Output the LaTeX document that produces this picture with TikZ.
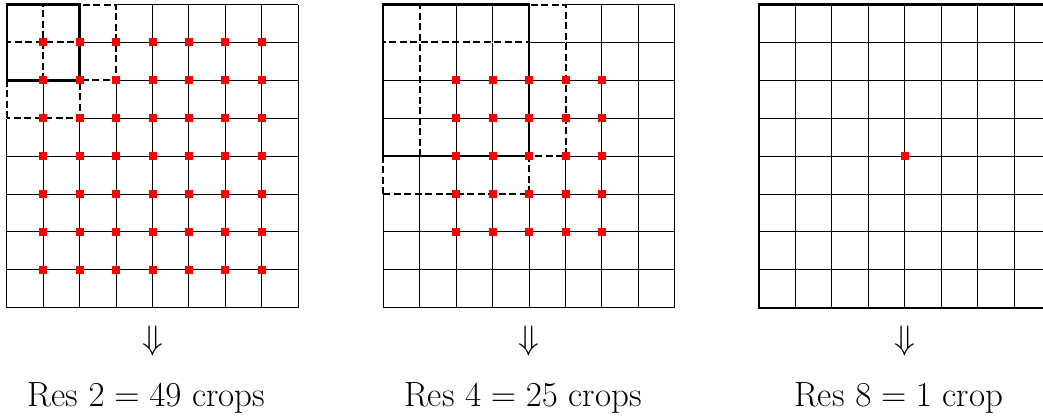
\RequirePackage{fix-cm}
\documentclass[tikz,border=0pt]{standalone}
\usepackage{amsmath}
\usepackage{tikz}
\usetikzlibrary{positioning}
\definecolor{CropRed}{HTML}{FF0000}

\tikzset{
  cellgrid/.style={line width=1pt,step=1},
  cropframe/.style={line width=2.4pt},
  cropshift/.style={line width=2pt,dash pattern=on 7pt off 3.5pt,
    preaction={draw=white,solid,line width=1.6pt}},
  reslabel/.style={font=\fontsize{35}{42}\selectfont,anchor=base,inner sep=0pt},
  resarrow/.style={font=\fontsize{34}{40}\selectfont,inner sep=0pt}
}

\begin{document}
\begin{tikzpicture}[x=36.45pt,y=37.9pt]
  \useasboundingbox (-0.184,-2.85) rectangle (28.43,8.12);

  % one panel per resolution: offset / crop size / number of crops / word
  \foreach \ox/\res/\num/\word [count=\k] in {0/2/49/crops,10.33/4/25/crops,20.64/8/1/crop}{
    \begin{scope}[xshift=\ox*36.45pt]
      \draw[cellgrid] (0,0) grid (8,8);
      \ifnum\res<8
        \draw[cropshift] (1,8-\res) rectangle (\res+1,8);
        \draw[cropshift] (0,7-\res) rectangle (\res,7);
      \fi
      \draw[cropframe] (0,8-\res) rectangle (\res,8);
      \pgfmathtruncatemacro{\lo}{\res/2}
      \pgfmathtruncatemacro{\hi}{8-\res/2}
      \foreach \i in {\lo,...,\hi}
        \foreach \j in {\lo,...,\hi}
          \fill[CropRed] (\i,\j) ++(-4pt,-4pt) rectangle ++(8pt,8pt);
      \node[resarrow] (arrow\k) at (4,-0.87) {$\Downarrow$};
      \node[reslabel] (label\k) at (3.83,-2.61) {Res $\res = \num$ \word};
    \end{scope}
  }
\end{tikzpicture}
\end{document}
